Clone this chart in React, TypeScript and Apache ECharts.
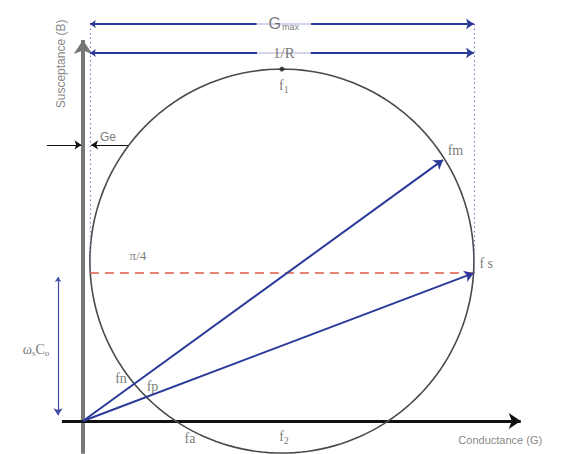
import React, { useEffect, useRef } from "react";
import * as echarts from "echarts";

// Admittance circle of a piezo resonator, drawn in the conductance (G) / susceptance (B) plane.
const G_E = 0.36; // parallel loss conductance Ge
const INV_R = 20; // motional conductance 1/R (circle diameter)
const G_MAX = G_E + INV_R;
const CIRCLE_CENTER: [number, number] = [G_E + INV_R / 2, 8.33];
const CIRCLE_RADIUS = INV_R / 2;
const WS_C0 = 7.7; // omega_s * C0

// Characteristic frequency points on the circle
const F_S: [number, number] = [20.34, 7.7];
const F_M: [number, number] = [18.75, 13.6];
const F_1: [number, number] = [10.36, 18.33];

// Axes extents
const G_AXIS: [number, number] = [-1.1, 22.8];
const B_AXIS: [number, number] = [-1.7, 19.84];

// Dimension lines above the circle
const GMAX_LEVEL = 20.68;
const INVR_LEVEL = 19.17;
const GE_LEVEL = 14.38;

// Text labels: [G, B, text-key]
const LABELS: [number, number, string][] = [
  [10.46, 17.45, "f1"],
  [19.4, 14.1, "fm"],
  [21.0, 8.18, "fs"],
  [1.98, 2.19, "fn"],
  [3.62, 1.82, "fp"],
  [5.57, -0.89, "fa"],
  [10.47, -0.83, "f2"],
  [2.86, 8.62, "pi4"],
  [10.46, GMAX_LEVEL, "gmax"],
  [10.46, INVR_LEVEL, "invr"],
  [1.3, 14.8, "ge"],
  [-2.45, 3.7, "wsc0"],
  [-1.15, 18.6, "ylabel"],
  [19.55, -0.99, "xlabel"],
];

const BLUE = "#2b3a9a";
const TEXT = "#555555";
const SERIF = "'Liberation Serif', 'DejaVu Serif', serif";
const SANS = "'Liberation Sans', Arial, sans-serif";

function circlePoints(): number[][] {
  const pts: number[][] = [];
  for (let i = 0; i <= 360; i += 2) {
    const a = (i * Math.PI) / 180;
    pts.push([
      CIRCLE_CENTER[0] + CIRCLE_RADIUS * Math.cos(a),
      CIRCLE_CENTER[1] + CIRCLE_RADIUS * Math.sin(a),
    ]);
  }
  return pts;
}

function arrowSeries(
  coords: number[][][],
  color: string,
  width: number,
  symbol: [string, string],
  size: number | number[],
  type: any = "solid",
  z = 3
) {
  return {
    type: "lines",
    coordinateSystem: "cartesian2d",
    symbol,
    symbolSize: size,
    silent: true,
    clip: false,
    z,
    itemStyle: { color },
    lineStyle: { color, width, type, opacity: 1 },
    data: coords.map((c) => ({ coords: c, lineStyle: { color, width, type } })),
  };
}

const labelStyles: Record<string, any> = {
  f1: { formatter: "{a|f}{s|1}" },
  fm: { formatter: "{a|fm}" },
  fs: { formatter: "{a|f s}" },
  fn: { formatter: "{a|fn}" },
  fp: { formatter: "{a|fp}" },
  fa: { formatter: "{a|fa}" },
  f2: { formatter: "{a|f}{s|2}" },
  pi4: { formatter: "{b|π/4}" },
  gmax: {
    formatter: "{g|G}{gs|max}",
    backgroundColor: "#fff",
    padding: [0, 12, 0, 12],
  },
  invr: {
    formatter: "{r|1/R}",
    backgroundColor: "#fff",
    padding: [0, 16, 0, 16],
  },
  ge: { formatter: "{g2|Ge}" },
  wsc0: { formatter: "{w|ω}{ws|s}{w|C}{ws|o}" },
  ylabel: { formatter: "{y|Susceptance (B)}", rotate: 90 },
  xlabel: { formatter: "{y2|Conductance (G)}", align: "left" },
};

const plain = { textBorderWidth: 0, textShadowBlur: 0 };
const rich = {
  a: { fontFamily: SERIF, fontSize: 14, color: TEXT, ...plain },
  s: { fontFamily: SERIF, fontSize: 10, color: TEXT, padding: [8, 0, 0, 0], ...plain },
  b: { fontFamily: SERIF, fontSize: 13, color: TEXT, ...plain },
  r: { fontFamily: SERIF, fontSize: 15, color: TEXT, ...plain },
  g: { fontFamily: SANS, fontSize: 16, color: TEXT, ...plain },
  gs: { fontFamily: SANS, fontSize: 9, color: TEXT, padding: [7, 0, 0, 1], ...plain },
  g2: { fontFamily: SANS, fontSize: 12, color: TEXT, ...plain },
  w: { fontFamily: SERIF, fontSize: 14, color: TEXT, ...plain },
  ws: { fontFamily: SERIF, fontSize: 9, color: TEXT, padding: [7, 0, 0, 0], ...plain },
  y: { fontFamily: SANS, fontSize: 12, color: "#666", ...plain },
  y2: { fontFamily: SANS, fontSize: 11, color: "#666", ...plain },
};

export default function App() {
  const ref = useRef<HTMLDivElement>(null);

  useEffect(() => {
    if (!ref.current) return;
    const chart = echarts.init(ref.current, undefined, { renderer: "svg" });

    const option: any = {
      animation: false,
      backgroundColor: "#ffffff",
      grid: { left: 6.2, right: 21.2, top: 12.04, bottom: 0.36 },
      xAxis: { type: "value", min: -4, max: 24, show: false },
      yAxis: { type: "value", min: -1.7, max: 21.3, show: false },
      series: [
        // admittance circle
        {
          type: "line",
          data: circlePoints(),
          showSymbol: false,
          silent: true,
          clip: false,
          z: 2,
          lineStyle: { color: "#4a4a4a", width: 1.6 },
        },
        // susceptance axis
        arrowSeries([[[0, B_AXIS[0]], [0, B_AXIS[1]]]], "#777777", 4, ["none", "arrow"], [11, 14], "solid", 1),
        // conductance axis
        arrowSeries([[[G_AXIS[0], 0], [G_AXIS[1], 0]]], "#111111", 3, ["none", "arrow"], [10, 12], "solid", 1),
        // Gmax and 1/R dimension lines
        arrowSeries(
          [
            [[G_E, GMAX_LEVEL], [G_MAX, GMAX_LEVEL]],
            [[G_E, INVR_LEVEL], [G_MAX, INVR_LEVEL]],
          ],
          BLUE,
          2,
          ["arrow", "arrow"],
          [6, 8]
        ),
        // dotted extension lines
        arrowSeries(
          [
            [[G_E, GMAX_LEVEL], [G_E, WS_C0]],
            [[G_MAX, GMAX_LEVEL], [G_MAX, WS_C0]],
          ],
          "#8080c8",
          1.2,
          ["none", "none"],
          0,
          [1.5, 3]
        ),
        // Ge markers
        arrowSeries(
          [
            [[-1.88, GE_LEVEL], [-0.08, GE_LEVEL]],
            [[2.34, GE_LEVEL], [G_E + 0.06, GE_LEVEL]],
          ],
          "#111111",
          1.2,
          ["none", "arrow"],
          [5, 7]
        ),
        // pi/4 reference line
        arrowSeries([[[G_E, WS_C0], F_S]], "#de5a44", 1.5, ["none", "none"], 0, [9, 6], 3),
        // omega_s C0 span
        arrowSeries([[[-1.3, WS_C0 - 0.2], [-1.3, 0.3]]], "#3d4aa8", 1.2, ["arrow", "arrow"], [5, 7]),
        // admittance vectors to fm and fs
        arrowSeries([[[0, 0], F_M], [[0, 0], F_S]], BLUE, 2, ["none", "arrow"], [6, 9], "solid", 4),
        // f1 marker
        {
          type: "scatter",
          data: [F_1],
          symbolSize: 5,
          silent: true,
          z: 5,
          itemStyle: { color: "#222222" },
        },
        // text labels
        {
          type: "scatter",
          symbolSize: 0,
          silent: true,
          clip: false,
          z: 6,
          itemStyle: { color: "#555555" },
          data: LABELS.map(([g, b, key]) => ({
            value: [g, b],
            label: {
              show: true,
              position: "inside",
              color: TEXT,
              textBorderWidth: 0,
              rich,
              ...labelStyles[key],
            },
          })),
        },
      ],
    };

    chart.setOption(option);
    return () => chart.dispose();
  }, []);

  return (
    <div
      ref={ref}
      style={{ position: "fixed", left: 0, top: 0, width: 565, height: 454 }}
    />
  );
}
